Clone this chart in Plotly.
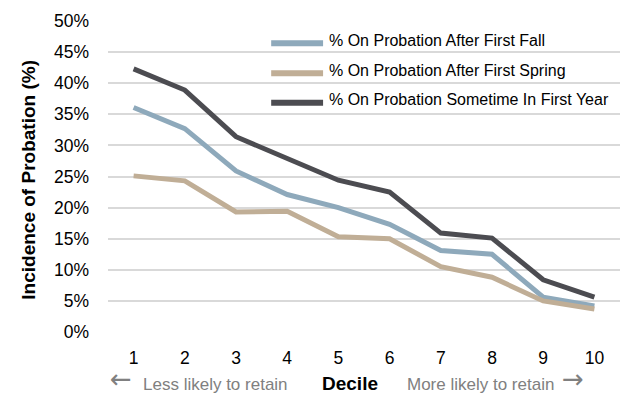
import plotly.graph_objects as go

# Probation incidence by retention-risk decile
deciles = ["1", "2", "3", "4", "5", "6", "7", "8", "9", "10"]
after_fall = [36.1, 32.7, 25.9, 22.1, 20.0, 17.3, 13.1, 12.5, 5.6, 4.2]
after_spring = [25.1, 24.3, 19.3, 19.4, 15.3, 15.0, 10.5, 8.8, 5.0, 3.7]
sometime_first_year = [42.3, 38.9, 31.4, 27.9, 24.4, 22.5, 15.9, 15.1, 8.4, 5.6]

series_names = [
    "% On Probation After First Fall",
    "% On Probation After First Spring",
    "% On Probation Sometime In First Year",
]
series_values = [after_fall, after_spring, sometime_first_year]
series_colors = ["#8ea9bb", "#c0ae96", "#4c4c51"]

y_ticks = list(range(0, 51, 5))
y_tick_labels = [f"{v}%" for v in y_ticks]

FONT = "Liberation Sans, Arial, sans-serif"
ARROW_FONT = "DejaVu Sans, sans-serif"

fig = go.Figure()
for name, vals, col in zip(series_names, series_values, series_colors):
    fig.add_trace(go.Scatter(
        x=deciles, y=vals, name=name, mode="lines",
        line=dict(color=col, width=5),
        showlegend=False, hoverinfo="skip",
    ))

W, H = 623, 396
L, R, T, B = 107.5, 2.5, 21, 64
pw, ph = W - L - R, H - T - B

def px_x(x):
    return (x - L) / pw

def px_y(y):
    return (H - B - y) / ph

# Legend drawn inside the plot area, top right
shapes = []
annotations = []
legend_rows = [43.3, 73.3, 102.7]
for name, col, yrow in zip(series_names, series_colors, legend_rows):
    shapes.append(dict(
        type="line", xref="paper", yref="paper",
        x0=px_x(271), x1=px_x(323), y0=px_y(yrow), y1=px_y(yrow),
        line=dict(color=col, width=6),
    ))
    annotations.append(dict(
        text=name, xref="paper", yref="paper",
        x=px_x(327), y=px_y(yrow - 3), xanchor="left", yanchor="middle",
        showarrow=False, font=dict(family=FONT, size=16, color="#000000"),
    ))

# Axis titles and direction hints under the deciles
gray = "#808080"
annotations += [
    dict(text="<b>Incidence of Probation (%)</b>", xref="paper", yref="paper",
         x=px_x(27), y=px_y(180), xanchor="center", yanchor="middle",
         textangle=-90, showarrow=False,
         font=dict(family=FONT, size=19, color="#000000")),
    dict(text="<b>Decile</b>", xref="paper", yref="paper",
         x=px_x(350), y=px_y(383), xanchor="center", yanchor="middle",
         showarrow=False, font=dict(family=FONT, size=19, color="#000000")),
    dict(text="Less likely to retain", xref="paper", yref="paper",
         x=px_x(215), y=px_y(384), xanchor="center", yanchor="middle",
         showarrow=False, font=dict(family=FONT, size=17, color=gray)),
    dict(text="More likely to retain", xref="paper", yref="paper",
         x=px_x(480.5), y=px_y(384), xanchor="center", yanchor="middle",
         showarrow=False, font=dict(family=FONT, size=17, color=gray)),
    dict(text="\u2190", xref="paper", yref="paper",
         x=px_x(121), y=px_y(379), xanchor="center", yanchor="middle",
         showarrow=False, font=dict(family=ARROW_FONT, size=26, color=gray)),
    dict(text="\u2192", xref="paper", yref="paper",
         x=px_x(573), y=px_y(379), xanchor="center", yanchor="middle",
         showarrow=False, font=dict(family=ARROW_FONT, size=26, color=gray)),
]

fig.update_layout(
    width=W, height=H,
    margin=dict(l=L, r=R, t=T, b=B),
    paper_bgcolor="white", plot_bgcolor="white",
    font=dict(family=FONT, size=17, color="#000000"),
    shapes=shapes, annotations=annotations,
    showlegend=False,
)
fig.update_xaxes(
    type="category", categoryorder="array", categoryarray=deciles,
    range=[-0.5, len(deciles) - 0.5],
    showgrid=False, zeroline=False, showline=False,
    ticks="", ticklabelstandoff=13,
    tickfont=dict(family=FONT, size=17.5, color="#000000"),
)
fig.update_yaxes(
    range=[0, 50], tickvals=y_ticks, ticktext=y_tick_labels,
    showgrid=True, gridcolor="#d9d9d9", gridwidth=1.6,
    zeroline=False, showline=False, ticks="", ticklabelstandoff=18,
    tickfont=dict(family=FONT, size=17.5, color="#000000"),
)

fig.write_html("out.html")
